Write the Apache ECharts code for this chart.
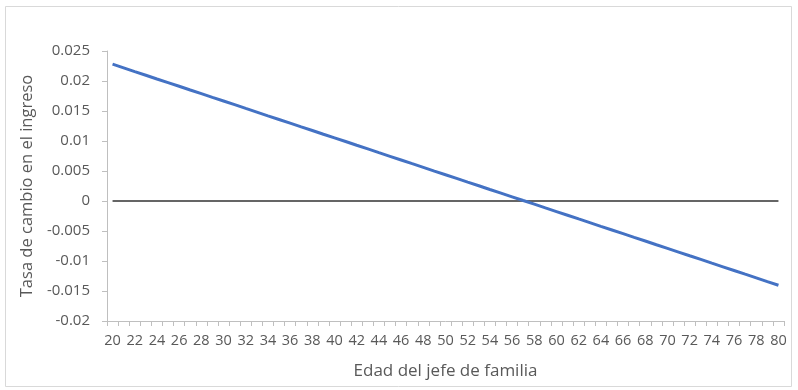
<!DOCTYPE html>
<html>
<head>
<meta charset="utf-8">
<script src="https://cdn.jsdelivr.net/npm/echarts@6/dist/echarts.min.js"></script>
<style>
  html, body { margin: 0; padding: 0; background: #ffffff; }
  #chart { width: 798px; height: 390px; }
</style>
</head>
<body>
<div id="chart"></div>
<script>
// Age of household head (x categories)
const ages = [];
for (let a = 20; a <= 80; a++) ages.push(String(a));

// Rate of change in income by age
const tasaCambio = [
  0.0228, 0.02219, 0.02157, 0.02096, 0.02034, 0.01973, 0.01912, 0.01850, 0.01789, 0.01727,
  0.01666, 0.01605, 0.01543, 0.01482, 0.01420, 0.01359, 0.01298, 0.01236, 0.01175, 0.01113,
  0.01052, 0.00991, 0.00929, 0.00868, 0.00806, 0.00745, 0.00684, 0.00622, 0.00561, 0.00499,
  0.00438, 0.00377, 0.00315, 0.00254, 0.00192, 0.00131, 0.00070, 0.00008, -0.00053, -0.00115,
  -0.00176, -0.00237, -0.00299, -0.00360, -0.00422, -0.00483, -0.00544, -0.00606, -0.00667, -0.00729,
  -0.00790, -0.00851, -0.00913, -0.00974, -0.01036, -0.01097, -0.01158, -0.01220, -0.01281, -0.01343,
  -0.01404
];

// Reference line at zero
const cero = ages.map(() => 0);

const yMin = -0.02, yMax = 0.025, yStep = 0.005;

const font = '"Open Sans", "Liberation Sans", Arial, sans-serif';
const textColor = '#595959';
const axisColor = '#bfbfbf';

const chart = echarts.init(document.getElementById('chart'), null, { renderer: 'canvas' });
chart.setOption({
  animation: false,
  backgroundColor: '#ffffff',
  graphic: [{
    type: 'rect',
    shape: { x: 5.5, y: 6.5, width: 786, height: 380 },
    style: { fill: 'none', stroke: '#d9d9d9', lineWidth: 1 },
    silent: true
  }],
  grid: { left: 107, right: 14, top: 51, bottom: 69, containLabel: false },
  xAxis: {
    type: 'category',
    data: ages,
    boundaryGap: true,
    name: 'Edad del jefe de familia',
    nameLocation: 'middle',
    nameGap: 42,
    nameTextStyle: { color: textColor, fontSize: 17, fontFamily: font },
    axisLine: { onZero: false, lineStyle: { color: axisColor, width: 1 } },
    axisTick: { show: true, interval: 0, length: 5, alignWithLabel: false, lineStyle: { color: axisColor } },
    axisLabel: { interval: 1, color: textColor, fontSize: 14.5, fontFamily: font, margin: 12 },
    splitLine: { show: false }
  },
  yAxis: {
    type: 'value',
    min: yMin,
    max: yMax,
    interval: yStep,
    name: 'Tasa de cambio en el ingreso',
    nameLocation: 'middle',
    nameGap: 62,
    nameRotate: 90,
    nameTextStyle: { color: textColor, fontSize: 16.5, fontFamily: font },
    axisLine: { show: true, lineStyle: { color: axisColor, width: 1 } },
    axisTick: { show: true, length: 5, lineStyle: { color: axisColor } },
    axisLabel: {
      color: textColor, fontSize: 15, fontFamily: font, margin: 17,
      formatter: v => String(parseFloat(v.toFixed(3)))
    },
    splitLine: { show: false }
  },
  series: [
    {
      type: 'line',
      data: cero,
      symbol: 'none',
      lineStyle: { color: '#333333', width: 1.5 },
      z: 2
    },
    {
      type: 'line',
      data: tasaCambio,
      symbol: 'none',
      lineStyle: { color: '#4472C4', width: 3 },
      z: 3
    }
  ]
});
</script>
</body>
</html>
